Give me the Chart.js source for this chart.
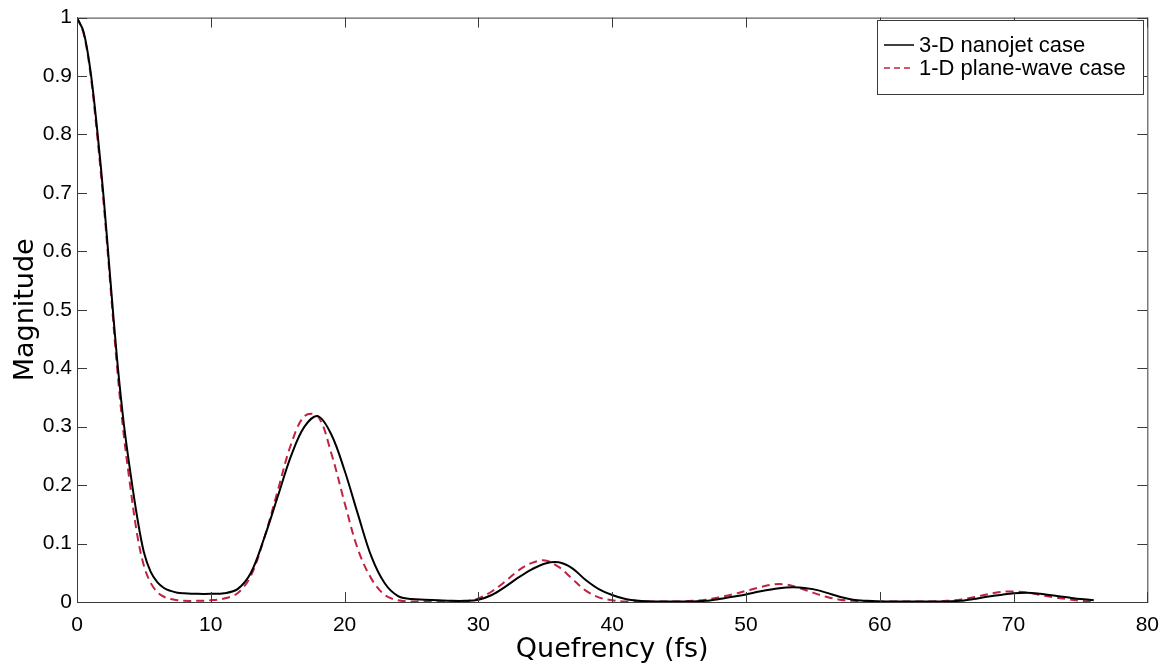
<!DOCTYPE html>
<html>
<head>
<meta charset="utf-8">
<script src="https://cdn.jsdelivr.net/npm/chart.js@4/dist/chart.umd.min.js"></script>
<style>
  html, body { margin: 0; padding: 0; background: #fff; }
  #wrap { width: 1170px; height: 666px; }
</style>
</head>
<body>
<div id="wrap"><canvas id="cepstrum" width="1170" height="666"></canvas></div>
<script>
// Cepstrum magnitude vs quefrency

const quefrency = [
  0, 0.5, 1, 1.5, 2, 2.5, 3, 3.5, 4, 4.5, 5, 5.5, 6, 6.5, 7, 7.5, 8,
  9, 10, 11, 12, 13, 14, 15, 16, 17, 18, 19, 20, 21, 22, 23, 24, 25, 26, 27, 28, 29,
  30, 31, 32, 33, 34, 35, 36, 37, 38, 39, 40, 41, 42, 43, 44, 45, 46, 47, 48, 49,
  50, 51, 52, 53, 54, 55, 56, 57, 58, 59, 60, 61, 62, 63, 64, 65, 66, 67, 68, 69,
  70, 71, 72, 73, 74, 75, 76
];

const nanojet3D = [
  1.0, 0.975, 0.91, 0.81, 0.69, 0.55, 0.415, 0.305, 0.22, 0.145, 0.085, 0.052, 0.034, 0.024, 0.019, 0.016, 0.015,
  0.014, 0.014, 0.015, 0.022, 0.050, 0.110, 0.180, 0.250, 0.300, 0.318, 0.287, 0.225, 0.150, 0.078, 0.032, 0.010, 0.005, 0.004, 0.003, 0.002, 0.002,
  0.004, 0.012, 0.026, 0.042, 0.056, 0.066, 0.068, 0.058, 0.038, 0.022, 0.012, 0.005, 0.002, 0.001, 0.001, 0.001, 0.001, 0.002, 0.005, 0.009,
  0.013, 0.018, 0.022, 0.025, 0.025, 0.022, 0.016, 0.009, 0.004, 0.002, 0.001, 0.001, 0.001, 0.001, 0.001, 0.001, 0.002, 0.005, 0.009, 0.012,
  0.015, 0.016, 0.014, 0.011, 0.008, 0.005, 0.003
];

const planeWave1D = [
  1.0, 0.972, 0.905, 0.80, 0.68, 0.54, 0.40, 0.285, 0.195, 0.115, 0.062, 0.033, 0.017, 0.009, 0.005, 0.003, 0.002,
  0.002, 0.003, 0.006, 0.015, 0.045, 0.110, 0.190, 0.270, 0.318, 0.318, 0.255, 0.170, 0.090, 0.040, 0.012, 0.003, 0.001, 0.001, 0.001, 0.001, 0.001,
  0.006, 0.018, 0.035, 0.054, 0.067, 0.071, 0.060, 0.040, 0.020, 0.008, 0.003, 0.001, 0.001, 0.001, 0.001, 0.001, 0.002, 0.004, 0.008, 0.013,
  0.019, 0.025, 0.030, 0.030, 0.024, 0.016, 0.009, 0.004, 0.002, 0.001, 0.001, 0.001, 0.001, 0.001, 0.001, 0.002, 0.004, 0.008, 0.013, 0.017,
  0.018, 0.016, 0.012, 0.008, 0.005, 0.002, 0.001
];

const seriesLabels = ['3-D nanojet case', '1-D plane-wave case'];
const xTicks = [0, 10, 20, 30, 40, 50, 60, 70, 80];
const yTicks = [0, 0.1, 0.2, 0.3, 0.4, 0.5, 0.6, 0.7, 0.8, 0.9, 1];

const FONT = "'Liberation Sans', Arial, Helvetica, sans-serif";
const TITLE_FONT = "'DejaVu Sans', Verdana, sans-serif";
const TICK = 10;

function toPoints(ys) {
  return quefrency.map((q, i) => ({ x: q, y: ys[i] }));
}

// MATLAB-like box: frame, inward ticks on all four sides, legend inside top-right
const matlabBox = {
  id: 'matlabBox',
  afterDatasetsDraw(chart) {
    const { ctx, chartArea: a, scales: { x, y } } = chart;
    ctx.save();
    ctx.strokeStyle = '#3a3a3a';
    ctx.lineWidth = 1;
    ctx.strokeRect(a.left + 0.5, a.top + 0.5, a.right - a.left, a.bottom - a.top);

    ctx.beginPath();
    x.ticks.forEach(t => {
      const px = Math.round(x.getPixelForValue(t.value)) + 0.5;
      ctx.moveTo(px, a.bottom); ctx.lineTo(px, a.bottom - TICK);
      ctx.moveTo(px, a.top); ctx.lineTo(px, a.top + TICK);
    });
    y.ticks.forEach(t => {
      const py = Math.round(y.getPixelForValue(t.value)) + 0.5;
      ctx.moveTo(a.left, py); ctx.lineTo(a.left + TICK, py);
      ctx.moveTo(a.right, py); ctx.lineTo(a.right - TICK, py);
    });
    ctx.stroke();

    // legend
    const bx = 877, by = 20, bw = 266, bh = 74;
    ctx.fillStyle = '#fff';
    ctx.fillRect(bx, by, bw, bh);
    ctx.strokeStyle = '#3a3a3a';
    ctx.strokeRect(bx + 0.5, by + 0.5, bw, bh);
    ctx.font = '22px ' + FONT;
    ctx.textBaseline = 'middle';
    ctx.fillStyle = '#000';
    chart.data.datasets.forEach((ds, i) => {
      const ly = by + 25 + i * 23;
      ctx.save();
      ctx.strokeStyle = ds.borderColor;
      ctx.lineWidth = 1.5;
      ctx.setLineDash(ds.borderDash ? [6, 4] : []);
      ctx.beginPath();
      ctx.moveTo(bx + 7, ly);
      ctx.lineTo(bx + 37, ly);
      ctx.stroke();
      ctx.restore();
      ctx.fillText(ds.label, bx + 42, ly + 1);
    });
    ctx.restore();
  }
};

new Chart(document.getElementById('cepstrum').getContext('2d'), {
  type: 'line',
  data: {
    datasets: [
      {
        label: seriesLabels[0],
        data: toPoints(nanojet3D),
        borderColor: '#000000',
        borderWidth: 2,
        pointRadius: 0,
        tension: 0.35,
        fill: false
      },
      {
        label: seriesLabels[1],
        data: toPoints(planeWave1D),
        borderColor: '#c02340',
        borderWidth: 2,
        borderDash: [8, 5],
        pointRadius: 0,
        tension: 0.35,
        fill: false
      }
    ]
  },
  options: {
    responsive: false,
    devicePixelRatio: 1,
    animation: false,
    layout: { padding: { top: 14, right: 21, left: 0, bottom: 0 } },
    plugins: {
      legend: { display: false },
      tooltip: { enabled: false }
    },
    scales: {
      x: {
        type: 'linear',
        min: 0,
        max: 80,
        afterBuildTicks: s => { s.ticks = xTicks.map(v => ({ value: v })); },
        afterFit: s => { s.height = 64; },
        grid: { display: false, drawTicks: false },
        border: { display: false },
        ticks: { color: '#000', padding: 11, font: { family: FONT, size: 21 }, maxRotation: 0 },
        title: {
          display: true,
          text: 'Quefrency (fs)',
          color: '#000',
          font: { family: TITLE_FONT, size: 27 },
          padding: { top: 0, bottom: 0 }
        }
      },
      y: {
        type: 'linear',
        min: 0,
        max: 1,
        afterBuildTicks: s => { s.ticks = yTicks.map(v => ({ value: v })); },
        afterFit: s => { s.width = 77; },
        grid: { display: false, drawTicks: false },
        border: { display: false },
        ticks: { color: '#000', padding: 5, font: { family: FONT, size: 21 }, callback: v => String(v) },
        title: {
          display: true,
          text: 'Magnitude',
          color: '#000',
          font: { family: TITLE_FONT, size: 27 },
          padding: { top: 10, bottom: 0 }
        }
      }
    }
  },
  plugins: [matlabBox]
});
</script>
</body>
</html>
